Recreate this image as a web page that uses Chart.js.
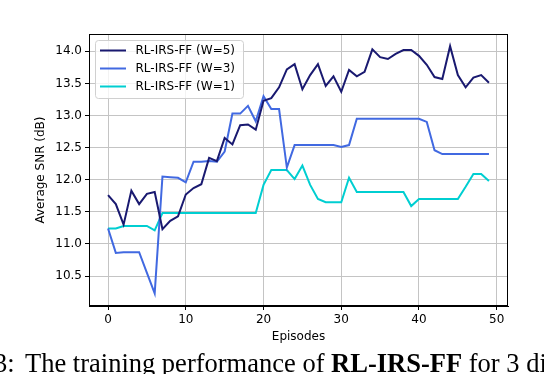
<!DOCTYPE html>
<html>
<head>
<meta charset="utf-8">
<script src="https://cdn.jsdelivr.net/npm/chart.js@4/dist/chart.umd.min.js"></script>
<style>
  html, body { margin: 0; padding: 0; background: #fff; width: 544px; height: 374px; overflow: hidden; }
  #wrap { position: relative; width: 544px; height: 374px; }
  canvas { position: absolute; left: 0; top: 0; }
  .cap { position: absolute; font-family: 'Liberation Serif', 'Times New Roman', serif; font-size: 26.5px; line-height: 26.5px; white-space: nowrap; color: #000; }
</style>
</head>
<body>
<div id="wrap">
  <canvas id="c" width="544" height="374"></canvas>
  <div class="cap" style="left:-6px; top:350px;">3:</div>
  <div class="cap" style="left:25px; top:350px;">The training performance of <b>RL-IRS-FF</b> for 3 different</div>
</div>
<script>
const episodes = [0,1,2,3,4,5,6,7,8,9,10,11,12,13,14,15,16,17,18,19,20,21,22,23,24,25,26,27,28,29,30,31,32,33,34,35,36,37,38,39,40,41,42,43,44,45,46,47,48,49];

const snrW5 = [11.76,11.62,11.30,11.83,11.62,11.78,11.81,11.23,11.36,11.43,
               11.77,11.87,11.93,12.34,12.29,12.65,12.55,12.85,12.86,12.78,
               13.23,13.27,13.44,13.72,13.80,13.41,13.63,13.80,13.46,13.61,
               13.37,13.71,13.61,13.68,14.03,13.91,13.88,13.96,14.02,14.02,
               13.93,13.79,13.60,13.57,14.08,13.63,13.44,13.59,13.63,13.51];

const snrW3 = [11.24,10.86,10.87,10.87,10.87,10.55,10.23,12.05,12.04,12.03,
               11.96,12.28,12.28,12.29,12.28,12.44,13.03,13.03,13.15,12.91,
               13.30,13.10,13.10,12.19,12.54,12.54,12.54,12.54,12.54,12.54,
               12.51,12.54,12.95,12.95,12.95,12.95,12.95,12.95,12.95,12.95,
               12.95,12.90,12.46,12.40,12.40,12.40,12.40,12.40,12.40,12.40];

const snrW1 = [11.24,11.24,11.28,11.28,11.28,11.28,11.21,11.48,11.48,11.48,
               11.48,11.48,11.48,11.48,11.48,11.48,11.48,11.48,11.48,11.48,
               11.92,12.15,12.15,12.15,12.01,12.22,11.92,11.70,11.65,11.65,
               11.65,12.03,11.81,11.81,11.81,11.81,11.81,11.81,11.81,11.59,
               11.70,11.70,11.70,11.70,11.70,11.70,11.89,12.09,12.09,11.98];

const seriesLabels = ['RL-IRS-FF (W=5)', 'RL-IRS-FF (W=3)', 'RL-IRS-FF (W=1)'];
const xTicks = [0, 10, 20, 30, 40, 50];
const yTicks = [10.5, 11.0, 11.5, 12.0, 12.5, 13.0, 13.5, 14.0];
const xLabel = 'Episodes';
const yLabel = 'Average SNR (dB)';

const FONT = "'DejaVu Sans', sans-serif";
const toPts = arr => arr.map((v, i) => ({ x: episodes[i], y: v }));

const framePlugin = {
  id: 'frame',
  afterDatasetsDraw(chart) {
    const { ctx, chartArea: a } = chart;
    ctx.save();
    ctx.strokeStyle = '#000';
    ctx.lineWidth = 1;
    ctx.strokeRect(a.left + 0.5, a.top + 0.5, a.right - a.left - 1, a.bottom - a.top - 1);
    ctx.restore();
  }
};

const legendPlugin = {
  id: 'mplLegend',
  afterDraw(chart) {
    const { ctx } = chart;
    const x0 = 95.5, y0 = 40.5, w = 148, h = 58, r = 3;
    ctx.save();
    ctx.beginPath();
    ctx.moveTo(x0 + r, y0);
    ctx.lineTo(x0 + w - r, y0);
    ctx.quadraticCurveTo(x0 + w, y0, x0 + w, y0 + r);
    ctx.lineTo(x0 + w, y0 + h - r);
    ctx.quadraticCurveTo(x0 + w, y0 + h, x0 + w - r, y0 + h);
    ctx.lineTo(x0 + r, y0 + h);
    ctx.quadraticCurveTo(x0, y0 + h, x0, y0 + h - r);
    ctx.lineTo(x0, y0 + r);
    ctx.quadraticCurveTo(x0, y0, x0 + r, y0);
    ctx.closePath();
    ctx.fillStyle = 'rgba(255,255,255,0.8)';
    ctx.fill();
    ctx.strokeStyle = '#d0d0d0';
    ctx.lineWidth = 1;
    ctx.stroke();
    chart.data.datasets.forEach((ds, i) => {
      const y = 50.5 + 18 * i;
      ctx.beginPath();
      ctx.moveTo(100, y);
      ctx.lineTo(126, y);
      ctx.strokeStyle = ds.borderColor;
      ctx.lineWidth = 2;
      ctx.stroke();
      ctx.fillStyle = '#000';
      ctx.font = '12px ' + FONT;
      ctx.textBaseline = 'middle';
      ctx.textAlign = 'left';
      ctx.fillText(ds.label, 135.5, y + 0.5);
    });
    ctx.restore();
  }
};

new Chart(document.getElementById('c'), {
  type: 'line',
  data: {
    datasets: [
      { label: seriesLabels[0], data: toPts(snrW5), borderColor: '#191970', borderWidth: 2, pointRadius: 0, tension: 0, fill: false },
      { label: seriesLabels[1], data: toPts(snrW3), borderColor: '#4169E1', borderWidth: 2, pointRadius: 0, tension: 0, fill: false },
      { label: seriesLabels[2], data: toPts(snrW1), borderColor: '#00CED1', borderWidth: 2, pointRadius: 0, tension: 0, fill: false }
    ]
  },
  options: {
    responsive: false,
    animation: false,
    events: [],
    layout: { padding: { left: 0, top: 34, right: 36, bottom: 0 } },
    plugins: { legend: { display: false }, tooltip: { enabled: false } },
    scales: {
      x: {
        type: 'linear',
        min: -2.45,
        max: 51.45,
        afterFit(s) { s.height = 68; },
        afterBuildTicks(s) { s.ticks = xTicks.map(v => ({ value: v })); },
        ticks: { color: '#000', font: { family: FONT, size: 12 }, padding: 3, maxRotation: 0, autoSkip: false, callback: v => String(v) },
        grid: { color: '#c4c4c4', lineWidth: 1, tickLength: 4, tickColor: '#000', drawTicks: true },
        border: { display: true, color: '#000', width: 1 },
        title: { display: true, text: xLabel, color: '#000', font: { family: FONT, size: 12 }, padding: { top: 0, bottom: 30 } }
      },
      y: {
        type: 'linear',
        min: 10.033,
        max: 14.27,
        afterFit(s) { s.width = 89; },
        afterBuildTicks(s) { s.ticks = yTicks.map(v => ({ value: v })); },
        ticks: { color: '#000', font: { family: FONT, size: 12 }, padding: 3, autoSkip: false, callback: v => Number(v).toFixed(1) },
        grid: { color: '#c4c4c4', lineWidth: 1, tickLength: 4, tickColor: '#000', drawTicks: true },
        border: { display: true, color: '#000', width: 1 },
        title: { display: true, text: yLabel, color: '#000', font: { family: FONT, size: 12 }, padding: { top: 34, bottom: 0 } }
      }
    }
  },
  plugins: [framePlugin, legendPlugin]
});
</script>
</body>
</html>
